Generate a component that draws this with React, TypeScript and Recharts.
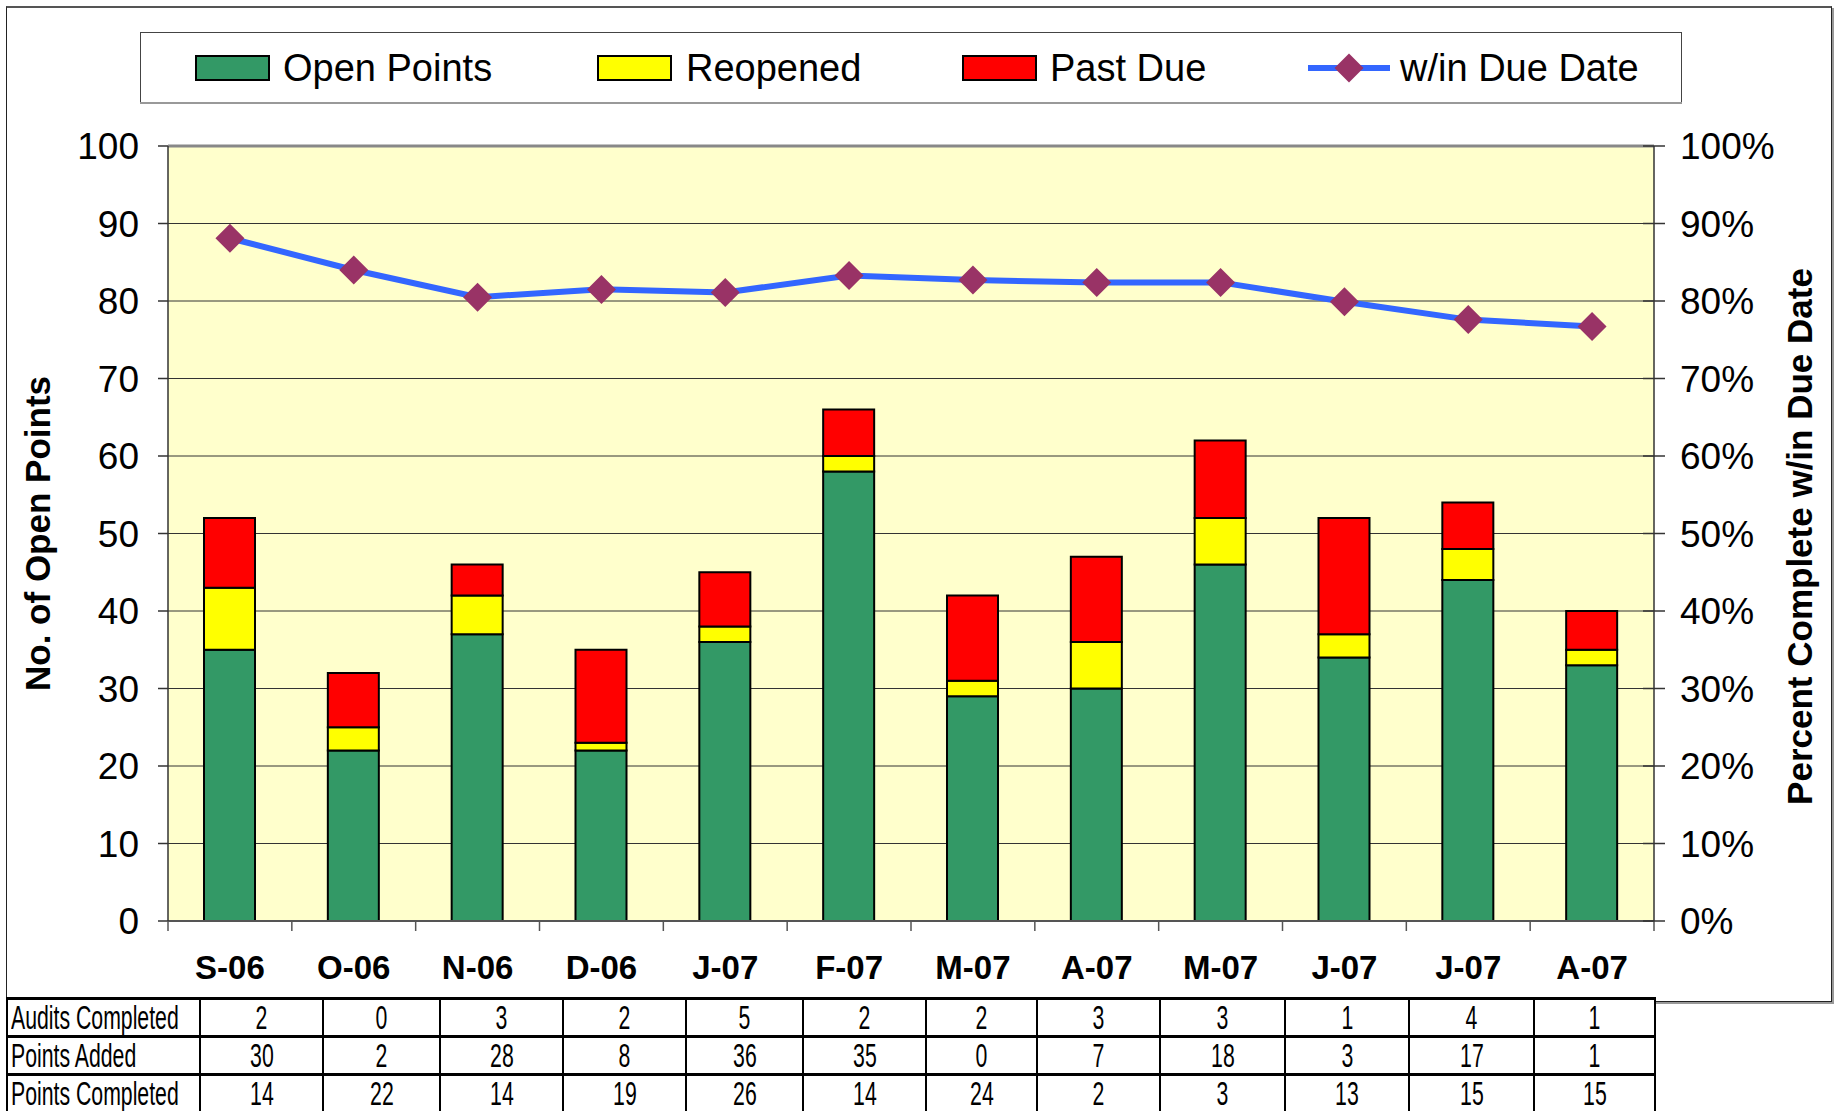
import React from 'react';
import {
  ComposedChart,
  Bar,
  Line,
  XAxis,
  YAxis,
  CartesianGrid,
  ReferenceLine,
  Label,
} from 'recharts';

const MONTHS = ['S-06', 'O-06', 'N-06', 'D-06', 'J-07', 'F-07', 'M-07', 'A-07', 'M-07', 'J-07', 'J-07', 'A-07'];
const OPEN_POINTS = [35, 22, 37, 22, 36, 58, 29, 30, 46, 34, 44, 33];
const REOPENED = [8, 3, 5, 1, 2, 2, 2, 6, 6, 3, 4, 2];
const PAST_DUE = [9, 7, 4, 12, 7, 6, 11, 11, 10, 15, 6, 5];
const WITHIN_DUE_PCT = [88.1, 84.0, 80.5, 81.5, 81.1, 83.3, 82.7, 82.4, 82.4, 79.9, 77.6, 76.7];

const COUNT_TICKS = [0, 10, 20, 30, 40, 50, 60, 70, 80, 90, 100];
const PCT_TICKS = [0, 10, 20, 30, 40, 50, 60, 70, 80, 90, 100];

const AUDITS_COMPLETED = [2, 0, 3, 2, 5, 2, 2, 3, 3, 1, 4, 1];
const POINTS_ADDED = [30, 2, 28, 8, 36, 35, 0, 7, 18, 3, 17, 1];
const POINTS_COMPLETED = [14, 22, 14, 19, 26, 14, 24, 2, 3, 13, 15, 15];

const GREEN = '#339966';
const YELLOW = '#FFFF00';
const RED = '#FF0000';
const LINE_BLUE = '#3366FF';
const DIAMOND = '#993366';
const PLOT_BG = '#FFFFCC';
const FONT = '"Liberation Sans", Arial, sans-serif';

const CHART_W = 1835;
const CHART_H = 1000;
const PLOT_LEFT = 168;
const PLOT_RIGHT = 1654;
const PLOT_TOP = 146;
const PLOT_BOTTOM = 921;
const CAT_W = (PLOT_RIGHT - PLOT_LEFT) / MONTHS.length;

// table column widths (px), first is the row-label column
const TABLE_COLS = [193, 123, 117, 123, 123, 117, 123, 111, 123, 125, 124, 125, 121];

const data = MONTHS.map((month, i) => ({
  month,
  open: OPEN_POINTS[i],
  reopened: REOPENED[i],
  pastDue: PAST_DUE[i],
  pct: WITHIN_DUE_PCT[i],
}));

const tableRows = [
  { label: 'Audits Completed', values: AUDITS_COMPLETED },
  { label: 'Points Added', values: POINTS_ADDED },
  { label: 'Points Completed', values: POINTS_COMPLETED },
];

const MonthTick = (props: any) => {
  const { x, y, index } = props;
  const half = CAT_W / 2;
  return (
    <g>
      <line x1={x - half} x2={x - half} y1={y} y2={y + 10} stroke="#555" strokeWidth={1.5} />
      {index === MONTHS.length - 1 && (
        <line x1={x + half} x2={x + half} y1={y} y2={y + 10} stroke="#555" strokeWidth={1.5} />
      )}
      <text
        x={x}
        y={y + 46}
        textAnchor="middle"
        dominantBaseline="central"
        fontSize={33}
        fontWeight="bold"
        fontFamily={FONT}
        fill="#000"
      >
        {MONTHS[index]}
      </text>
    </g>
  );
};

const PctTick = (props: any) => {
  const { x, y, payload } = props;
  return (
    <g>
      <line x1={x - 11} x2={x + 11} y1={y} y2={y} stroke="#333" strokeWidth={1.5} />
      <text x={x + 26} y={y} dy="0.355em" fontSize={37} fontFamily={FONT} fill="#000">
        {payload.value}%
      </text>
    </g>
  );
};

const DiamondDot = (props: any) => {
  const { cx, cy, index } = props;
  if (cx == null || cy == null) return <g key={`dd-${index}`} />;
  const r = 14.5;
  return (
    <path
      key={`dd-${index}`}
      d={`M${cx},${cy - r} L${cx + r},${cy} L${cx},${cy + r} L${cx - r},${cy} Z`}
      fill={DIAMOND}
    />
  );
};

const Legendbox = () => {
  const swatch = (x: number, color: string) => (
    <rect x={x} y={24} width={73} height={24} fill={color} stroke="#000" strokeWidth={2} />
  );
  const label = (x: number, text: string) => (
    <text x={x} y={36} dominantBaseline="central" fontSize={38} fontFamily={FONT} fill="#000">
      {text}
    </text>
  );
  return (
    <svg
      width={1542}
      height={71}
      style={{ position: 'absolute', left: 140, top: 32, overflow: 'visible' }}
    >
      <rect x={0.5} y={0.5} width={1541} height={70} fill="#fff" stroke="#444" strokeWidth={1} />
      <line x1={0} x2={1542} y1={71} y2={71} stroke="#999" strokeWidth={2} />
      {swatch(56, GREEN)}
      {label(143, 'Open Points')}
      {swatch(458, YELLOW)}
      {label(546, 'Reopened')}
      {swatch(823, RED)}
      {label(910, 'Past Due')}
      <line x1={1168} x2={1250} y1={36} y2={36} stroke={LINE_BLUE} strokeWidth={6} />
      <path d="M1209,21.5 L1223.5,36 L1209,50.5 L1194.5,36 Z" fill={DIAMOND} />
      {label(1260, 'w/in Due Date')}
    </svg>
  );
};

const cellText = (text: string | number, left: boolean) => (
  <span
    style={{
      display: 'inline-block',
      transform: 'scaleX(0.625)',
      transformOrigin: left ? 'left center' : 'center center',
      whiteSpace: 'nowrap',
    }}
  >
    {text}
  </span>
);

const cellBorder = {
  borderTop: '3px solid #000',
  borderBottom: '3px solid #000',
  borderLeft: '2px solid #000',
  borderRight: '2px solid #000',
};

export default function App() {
  return (
    <div
      style={{
        position: 'absolute',
        left: 0,
        top: 0,
        width: 1835,
        height: 1111,
        overflow: 'hidden',
        background: '#fff',
        fontFamily: FONT,
      }}
    >
      <div
        style={{
          position: 'absolute',
          left: 6,
          top: 6,
          width: 1824,
          height: 993,
          border: '1px solid #222',
          borderTop: '2px solid #555',
          boxShadow: '2px 2px 0 #999',
        }}
      />
      <div style={{ position: 'absolute', left: 0, top: 0 }}>
        <ComposedChart
          width={CHART_W}
          height={CHART_H}
          data={data}
          margin={{ top: PLOT_TOP, right: 0, bottom: 0, left: 0 }}
          barSize={51}
        >
          <CartesianGrid yAxisId="left" vertical={false} stroke="#333" strokeWidth={1} fill={PLOT_BG} fillOpacity={1} />
          <XAxis
            dataKey="month"
            height={CHART_H - PLOT_BOTTOM}
            axisLine={{ stroke: '#555', strokeWidth: 2 }}
            tickLine={false}
            tickSize={0}
            tickMargin={0}
            interval={0}
            tick={<MonthTick />}
          />
          <YAxis
            yAxisId="left"
            width={PLOT_LEFT}
            domain={[0, 100]}
            ticks={COUNT_TICKS}
            interval={0}
            axisLine={{ stroke: '#333', strokeWidth: 1.5 }}
            tickLine={{ stroke: '#333', strokeWidth: 1.5 }}
            tickSize={10}
            tickMargin={19}
            tick={{ fontSize: 37, fill: '#000', fontFamily: FONT }}
          >
            <Label
              content={() => (
                <text
                  transform={`translate(37, ${(PLOT_TOP + PLOT_BOTTOM) / 2}) rotate(-90)`}
                  textAnchor="middle"
                  dominantBaseline="central"
                  fontSize={35}
                  fontWeight="bold"
                  fontFamily={FONT}
                  fill="#000"
                >
                  No. of Open Points
                </text>
              )}
            />
          </YAxis>
          <YAxis
            yAxisId="right"
            orientation="right"
            width={CHART_W - PLOT_RIGHT}
            domain={[0, 100]}
            ticks={PCT_TICKS}
            interval={0}
            axisLine={{ stroke: '#333', strokeWidth: 1.5 }}
            tickLine={false}
            tickSize={0}
            tickMargin={0}
            tick={<PctTick />}
          >
            <Label
              content={() => (
                <text
                  transform={`translate(1799, ${(PLOT_TOP + PLOT_BOTTOM) / 2 + 3}) rotate(-90)`}
                  textAnchor="middle"
                  dominantBaseline="central"
                  fontSize={35}
                  fontWeight="bold"
                  fontFamily={FONT}
                  fill="#000"
                >
                  Percent Complete w/in Due Date
                </text>
              )}
            />
          </YAxis>
          <ReferenceLine yAxisId="left" y={100} stroke="#888" strokeWidth={3} />
          <Bar yAxisId="left" dataKey="open" name="Open Points" stackId="s" fill={GREEN} stroke="#000" strokeWidth={2} isAnimationActive={false} />
          <Bar yAxisId="left" dataKey="reopened" name="Reopened" stackId="s" fill={YELLOW} stroke="#000" strokeWidth={2} isAnimationActive={false} />
          <Bar yAxisId="left" dataKey="pastDue" name="Past Due" stackId="s" fill={RED} stroke="#000" strokeWidth={2} isAnimationActive={false} />
          <Line
            yAxisId="right"
            dataKey="pct"
            name="w/in Due Date"
            type="linear"
            stroke={LINE_BLUE}
            strokeWidth={6}
            dot={DiamondDot}
            activeDot={false}
            isAnimationActive={false}
          />
        </ComposedChart>
      </div>
      <Legendbox />
      <table
        style={{
          position: 'absolute',
          left: 6,
          top: 997,
          width: TABLE_COLS.reduce((a, b) => a + b, 0),
          borderCollapse: 'collapse',
          tableLayout: 'fixed',
          fontSize: 34,
          lineHeight: '31px',
          fontFamily: FONT,
          background: '#fff',
        }}
      >
        <colgroup>
          {TABLE_COLS.map((w, i) => (
            <col key={i} style={{ width: w }} />
          ))}
        </colgroup>
        <tbody>
          {tableRows.map((row) => (
            <tr key={row.label} style={{ height: 38 }}>
              <td
                style={{
                  ...cellBorder,
                  padding: '0 0 0 3px',
                  textAlign: 'left',
                  overflow: 'hidden',
                }}
              >
                {cellText(row.label, true)}
              </td>
              {row.values.map((v, i) => (
                <td key={i} style={{ ...cellBorder, padding: 0, textAlign: 'center' }}>
                  {cellText(v, false)}
                </td>
              ))}
            </tr>
          ))}
        </tbody>
      </table>
    </div>
  );
}
